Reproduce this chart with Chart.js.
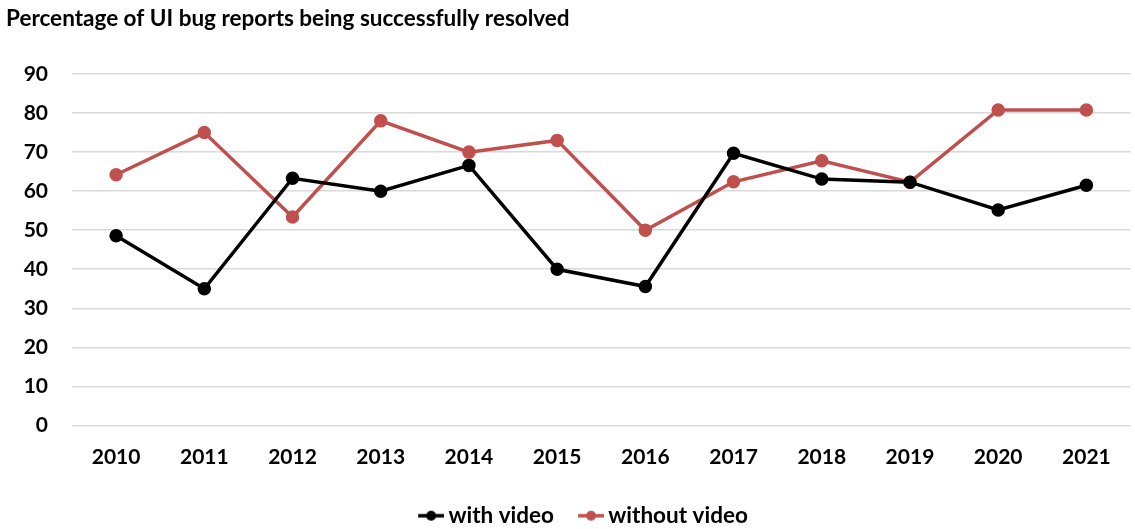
<!DOCTYPE html>
<html>
<head>
<meta charset="utf-8">
<script src="https://cdn.jsdelivr.net/npm/chart.js@4.4.1/dist/chart.umd.min.js"></script>
<style>
  html, body { margin: 0; padding: 0; background: #fff; overflow: hidden; }
  #wrap { width: 1139px; height: 537px; position: relative; }
</style>
</head>
<body>
<div id="wrap"><canvas id="chart"></canvas></div>
<script>
// Years on the horizontal axis
const years = ['2010', '2011', '2012', '2013', '2014', '2015', '2016', '2017', '2018', '2019', '2020', '2021'];
// Share of UI bug reports resolved (%)
const withVideo    = [48.6, 35.0, 63.3, 60.0, 66.6, 40.0, 35.6, 69.7, 63.1, 62.3, 55.2, 61.5];
const withoutVideo = [64.2, 75.0, 53.4, 78.0, 70.0, 73.0, 50.0, 62.4, 67.8, 62.3, 80.8, 80.8];
const seriesNames = ['with video', 'without video'];

const BLACK = '#000000';
const RED = '#c0504d';
const FONT = 'Lato, "Open Sans", sans-serif';

// Legend marker: short line segment with a dot, placed at the right of a
// wider transparent image so it sits close to its label text
function legendMarker(color) {
  const c = document.createElement('canvas');
  c.width = 54; c.height = 12;
  const g = c.getContext('2d');
  g.strokeStyle = color; g.lineWidth = 3.5;
  g.beginPath(); g.moveTo(28, 6); g.lineTo(54, 6); g.stroke();
  g.fillStyle = color;
  g.beginPath(); g.arc(41, 6, 5, 0, Math.PI * 2); g.fill();
  return c;
}
const markers = [legendMarker(BLACK), legendMarker(RED)];

new Chart(document.getElementById('chart'), {
  type: 'line',
  data: {
    labels: years,
    datasets: [
      { label: seriesNames[0], data: withVideo, borderColor: BLACK, backgroundColor: BLACK,
        borderWidth: 3.5, pointRadius: 5, pointHoverRadius: 5, tension: 0 },
      { label: seriesNames[1], data: withoutVideo, borderColor: RED, backgroundColor: RED,
        borderWidth: 3.5, pointRadius: 5, pointHoverRadius: 5, tension: 0 }
    ]
  },
  options: {
    responsive: true,
    maintainAspectRatio: false,
    animation: false,
    layout: { padding: { left: 6, right: 0, top: 0, bottom: 0 } },
    plugins: {
      title: {
        display: true,
        text: 'Percentage of UI bug reports being successfully resolved',
        align: 'start',
        color: '#000',
        font: { family: FONT, size: 22.5, weight: 'bold' },
        padding: { top: 5, bottom: 42 }
      },
      legend: {
        position: 'bottom',
        labels: {
          color: '#000',
          font: { family: FONT, size: 22.5, weight: 'bold' },
          usePointStyle: true,
          pointStyleWidth: 40,
          padding: 3,
          generateLabels(chart) {
            return chart.data.datasets.map((ds, i) => ({
              text: ds.label,
              fillStyle: ds.borderColor,
              strokeStyle: ds.borderColor,
              fontColor: '#000',
              pointStyle: markers[i],
              lineWidth: 0,
              hidden: false,
              datasetIndex: i
            }));
          }
        }
      },
      tooltip: { enabled: false }
    },
    scales: {
      x: {
        offset: true,
        grid: { display: false, drawTicks: false },
        border: { display: false },
        ticks: { color: '#000', font: { family: FONT, size: 21, weight: 'bold' }, padding: 19, maxRotation: 0 },
        afterFit(scale) { scale.height = 76; }
      },
      y: {
        min: 0, max: 90,
        grid: { color: '#d9d9d9', lineWidth: 1.6, drawTicks: false },
        border: { display: false },
        ticks: { stepSize: 10, color: '#000', font: { family: FONT, size: 21, weight: 'bold' }, padding: 24 },
        afterFit(scale) { scale.width = 66; }
      }
    }
  }
});
</script>
</body>
</html>
